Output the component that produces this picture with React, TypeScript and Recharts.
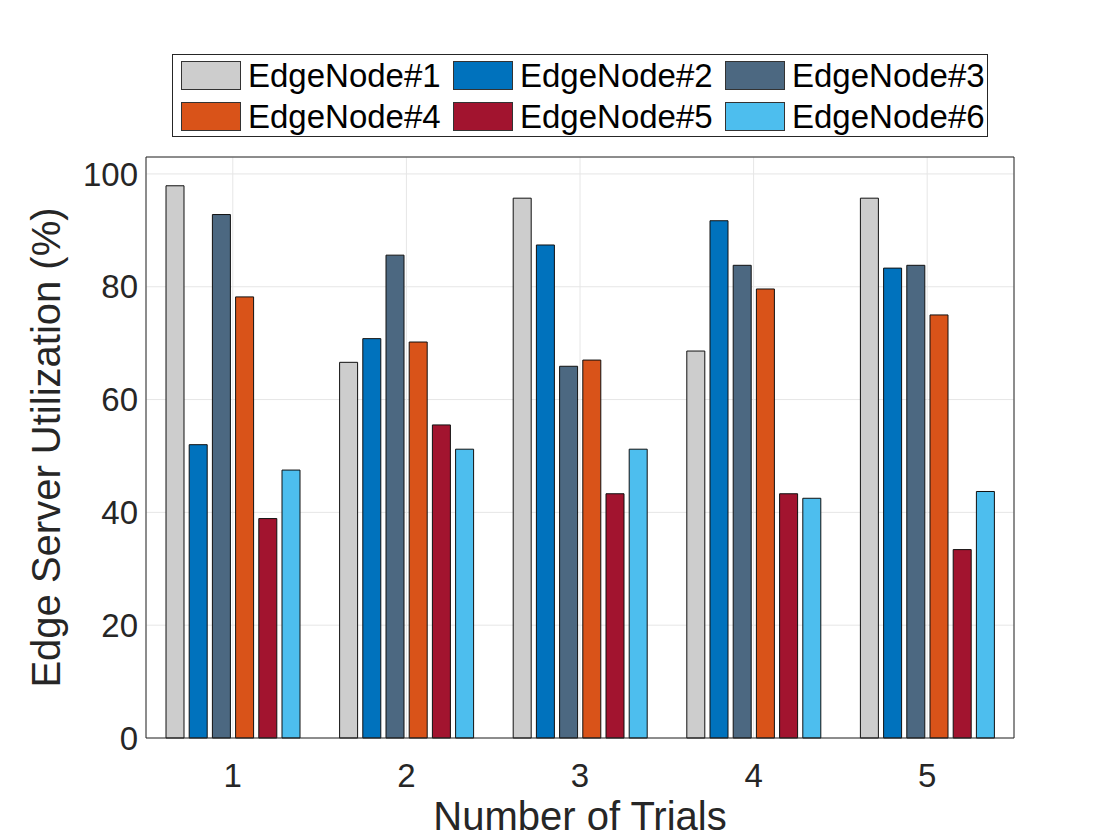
import React from 'react';
import { BarChart, Bar, XAxis, YAxis, CartesianGrid } from 'recharts';

const trials = ['1', '2', '3', '4', '5'];
const edgeNode1 = [97.9, 66.6, 95.7, 68.6, 95.7];
const edgeNode2 = [52.0, 70.8, 87.4, 91.7, 83.3];
const edgeNode3 = [92.8, 85.6, 65.9, 83.8, 83.8];
const edgeNode4 = [78.2, 70.2, 67.0, 79.6, 75.0];
const edgeNode5 = [38.9, 55.5, 43.3, 43.3, 33.4];
const edgeNode6 = [47.5, 51.2, 51.2, 42.5, 43.7];
const seriesNames = ['EdgeNode#1', 'EdgeNode#2', 'EdgeNode#3', 'EdgeNode#4', 'EdgeNode#5', 'EdgeNode#6'];
const seriesColors = ['#cdcdcd', '#0072bd', '#4c6881', '#d95319', '#a2142f', '#4dbeee'];
const yTicks = [0, 20, 40, 60, 80, 100];

const allSeries = [edgeNode1, edgeNode2, edgeNode3, edgeNode4, edgeNode5, edgeNode6];

const data = trials.map((t, i) => {
  const row: any = { trial: t };
  allSeries.forEach((s, k) => {
    row['n' + k] = s[i];
  });
  return row;
});

const font = '"Liberation Sans", Arial, Helvetica, sans-serif';
const textColor = '#262626';

const LegendBox = () => (
  <div
    style={{
      position: 'absolute',
      left: 172,
      top: 54,
      width: 814,
      height: 81,
      border: '1px solid #262626',
      background: '#fff',
      display: 'grid',
      gridTemplateColumns: '272px 272px 270px',
      gridTemplateRows: '41px 41px',
      boxSizing: 'content-box',
      fontFamily: font,
      fontSize: 33,
      color: '#000',
    }}
  >
    {seriesNames.map((name, k) => (
      <div key={name} style={{ display: 'flex', alignItems: 'center', paddingLeft: 8 }}>
        <div
          style={{
            width: 58,
            height: 27,
            background: seriesColors[k],
            border: '1px solid #333',
            marginRight: 7,
            flex: 'none',
          }}
        />
        <span style={{ lineHeight: '33px', whiteSpace: 'nowrap' }}>{name}</span>
      </div>
    ))}
  </div>
);

export default function App() {
  return (
    <div style={{ position: 'absolute', left: 0, top: 0, width: 1120, height: 840, background: '#fff' }}>
      <BarChart
        width={1120}
        height={840}
        data={data}
        margin={{ top: 157, right: 106, bottom: 0, left: 0 }}
        barSize={18}
        barGap={5.2}
      >
        <CartesianGrid stroke="#e6e6e6" strokeWidth={1} />
        <XAxis
          dataKey="trial"
          height={102}
          tickLine={false}
          axisLine={{ stroke: '#262626' }}
          tickMargin={20}
          tick={{ fontSize: 33, fill: textColor, fontFamily: font }}
          label={{
            value: 'Number of Trials',
            position: 'insideBottom',
            offset: 10,
            style: { fontSize: 40, fill: textColor, fontFamily: font, textAnchor: 'middle' },
          }}
        />
        <XAxis
          xAxisId="top"
          dataKey="trial"
          orientation="top"
          mirror
          height={1}
          tick={false}
          tickSize={8}
          tickLine={{ stroke: '#262626' }}
          axisLine={{ stroke: '#262626' }}
        />
        <XAxis
          xAxisId="bottomTicks"
          dataKey="trial"
          orientation="bottom"
          mirror
          height={1}
          tick={false}
          tickSize={8}
          tickLine={{ stroke: '#262626' }}
          axisLine={false}
        />
        <YAxis
          width={146}
          domain={[0, 103]}
          ticks={yTicks}
          tickLine={false}
          axisLine={{ stroke: '#262626' }}
          tick={{ fontSize: 33, fill: textColor, fontFamily: font }}
          label={{
            value: 'Edge Server Utilization (%)',
            angle: -90,
            position: 'insideLeft',
            offset: 46,
            style: { fontSize: 40, fill: textColor, fontFamily: font, textAnchor: 'middle' },
          }}
        />
        <YAxis
          yAxisId="leftTicks"
          orientation="left"
          mirror
          width={1}
          domain={[0, 103]}
          ticks={yTicks}
          tick={false}
          tickSize={8}
          tickLine={{ stroke: '#262626' }}
          axisLine={false}
        />
        <YAxis
          yAxisId="right"
          orientation="right"
          mirror
          width={1}
          domain={[0, 103]}
          ticks={yTicks}
          tick={false}
          tickSize={8}
          tickLine={{ stroke: '#262626' }}
          axisLine={{ stroke: '#262626' }}
        />
        {seriesNames.map((name, k) => (
          <Bar
            key={name}
            dataKey={'n' + k}
            name={name}
            fill={seriesColors[k]}
            stroke="#111"
            strokeWidth={1}
            isAnimationActive={false}
          />
        ))}
      </BarChart>
      <LegendBox />
    </div>
  );
}
